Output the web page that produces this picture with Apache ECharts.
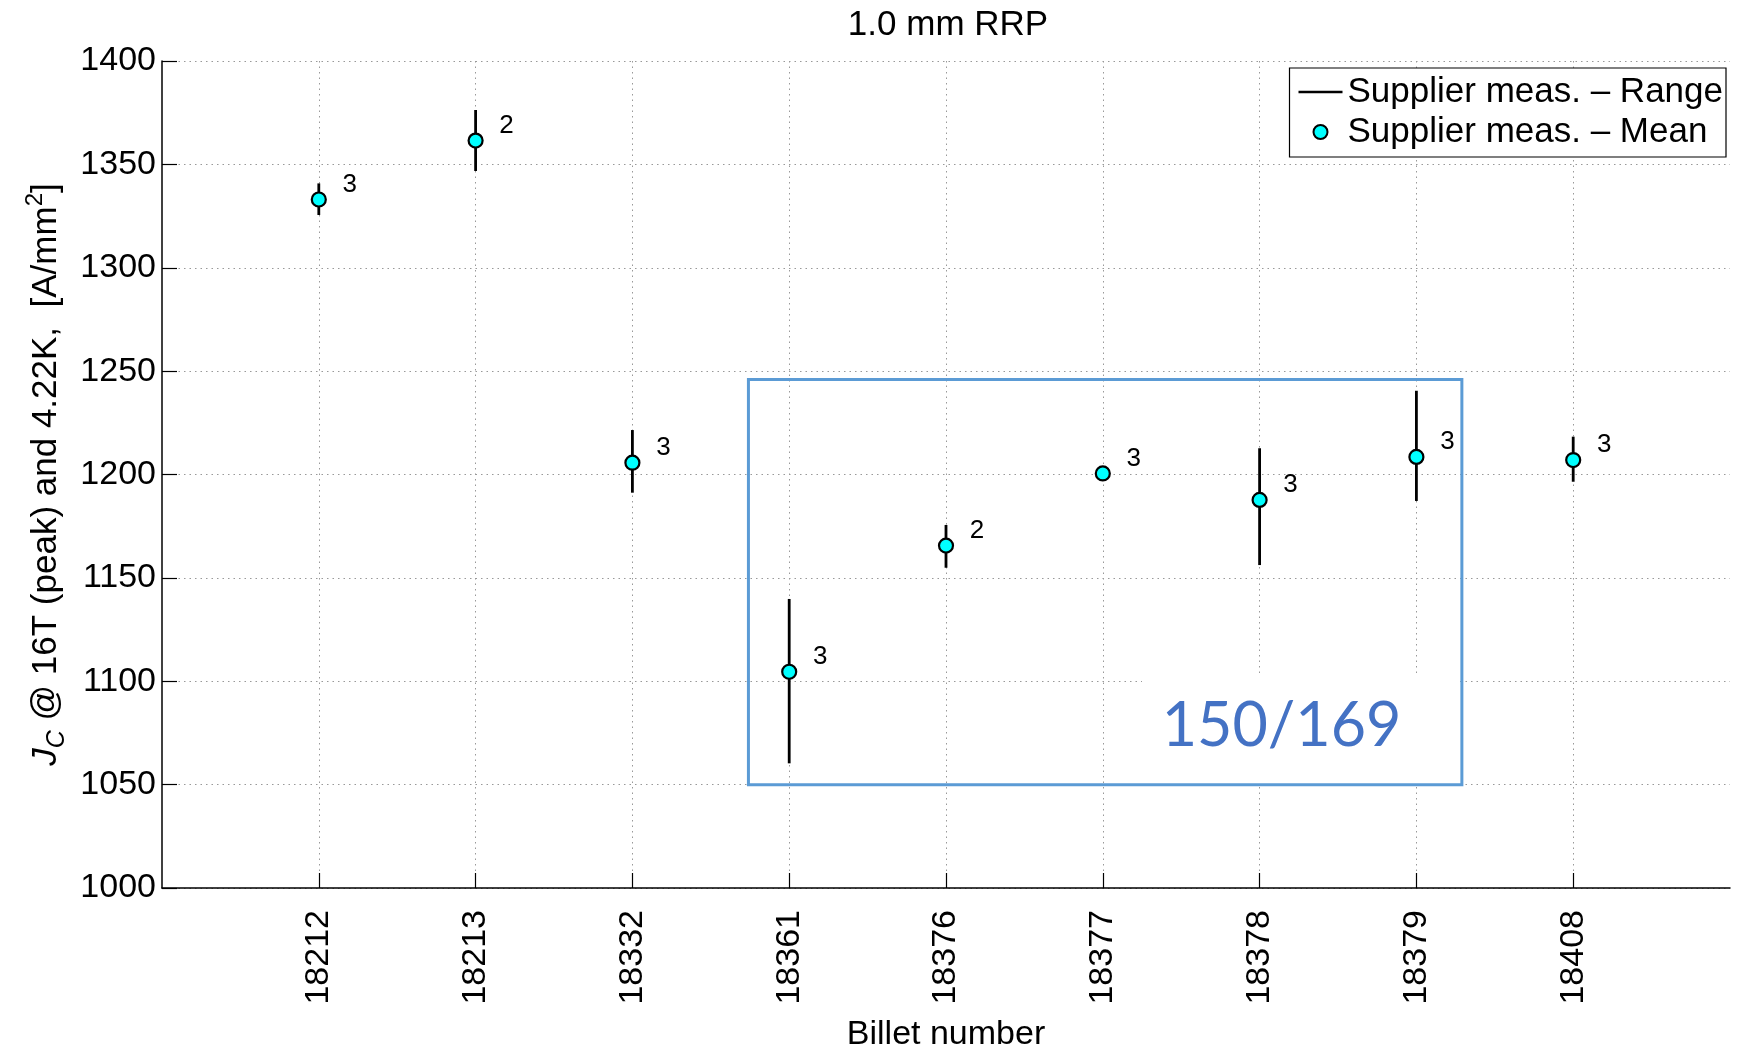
<!DOCTYPE html>
<html>
<head>
<meta charset="utf-8">
<script src="https://cdn.jsdelivr.net/npm/echarts@6/dist/echarts.min.js"></script>
<style>
html,body{margin:0;padding:0;background:#fff;}
#chart{width:1742px;height:1049px;}
</style>
</head>
<body>
<div id="chart"></div>
<script>
var billets=['18212','18213','18332','18361','18376','18377','18378','18379','18408'];
var means=[1333,1361.5,1205.7,1104.6,1165.6,1200.5,1187.7,1208.5,1207];
var lows=[1325.5,1346.8,1191.2,1060.3,1154.9,1199.5,1156.2,1187.2,1196.5];
var highs=[1340.8,1376.3,1221.5,1139.8,1175.6,1201.5,1212.7,1240.5,1218.3];
var counts=[3,2,3,3,2,3,3,3,3];
var yTicks=[1000,1400,50];
// highlighted group: [x0,y0,x1,y1] in axis units (billet slot, Jc)
var boxArea=[3.74,1050,8.29,1246];
var patchArea=[6.25,1050,8.27,1103.5];
var boxText='150/169';
var boxTextAt=[7.14,1078];

var font='"Liberation Sans", Arial, sans-serif';
var cats=[''].concat(billets).concat(['']);
var inner=function(i){return i>0&&i<cats.length-1;};

var rangeData=[],meanData=[];
for(var i=0;i<billets.length;i++){
	rangeData.push([i+1,lows[i],highs[i]]);
	meanData.push([i+1,means[i],counts[i]]);
}

function px(api,fx,y){
	var k=Math.floor(fx);
	var a=api.coord([k,y]),b=api.coord([k+1,y]);
	return [a[0]+(fx-k)*(b[0]-a[0]),a[1]];
}

var chart=echarts.init(document.getElementById('chart'));
var option={
	animation:false,
	backgroundColor:'#fff',
	title:{
		text:'1.0 mm RRP',left:943,top:3,textAlign:'center',
		textStyle:{fontFamily:font,fontSize:35,fontWeight:'normal',color:'#000'}
	},
	legend:{
		orient:'vertical',right:16,top:68,
		backgroundColor:'#fff',borderColor:'#000',borderWidth:1.2,
		padding:[6,3,7,9],itemGap:4,itemWidth:44,itemHeight:14,
		textStyle:{fontFamily:font,fontSize:35,color:'#000',lineHeight:36},
		data:[
			{name:'Supplier meas. – Range',icon:'path://M0,0H44V2.4H0Z'},
			{name:'Supplier meas. – Mean',icon:'circle'}
		]
	},
	grid:{left:162,right:12,top:61,bottom:161,outerBoundsMode:'none'},
	xAxis:{
		type:'category',data:cats,boundaryGap:false,
		name:'Billet number',nameLocation:'middle',nameGap:130,
		nameTextStyle:{fontFamily:font,fontSize:34,color:'#000'},
		axisLine:{lineStyle:{color:'#000',width:1.5}},
		axisTick:{inside:true,length:15,interval:inner,lineStyle:{color:'#000',width:1.2}},
		axisLabel:{rotate:90,margin:22,interval:inner,fontFamily:font,fontSize:34,color:'#000'},
		splitLine:{show:true,interval:inner,lineStyle:{color:'#999',type:[1.5,4],width:1}}
	},
	yAxis:{
		type:'value',min:yTicks[0],max:yTicks[1],interval:yTicks[2],
		name:'{i|J}{sub|C}{n| @ 16T (peak) and 4.22K,  [A/mm}{sup|2}{n|]}',
		nameLocation:'middle',nameRotate:90,nameGap:90,
		nameTextStyle:{
			fontFamily:font,color:'#000',
			rich:{
				i:{fontFamily:font,fontSize:35,fontStyle:'italic',lineHeight:46,color:'#000'},
				n:{fontFamily:font,fontSize:35,lineHeight:46,color:'#000'},
				sub:{fontFamily:font,fontSize:25,fontStyle:'italic',lineHeight:25,verticalAlign:'bottom',color:'#000'},
				sup:{fontFamily:font,fontSize:24,lineHeight:24,verticalAlign:'top',color:'#000'}
			}
		},
		axisLine:{show:true,lineStyle:{color:'#000',width:1.5}},
		axisTick:{show:true,inside:true,length:15,lineStyle:{color:'#000',width:1.2}},
		axisLabel:{margin:6,fontFamily:font,fontSize:34,color:'#000',
			formatter:function(v){return String(v);}},
		splitLine:{show:true,lineStyle:{color:'#999',type:[1.5,4],width:1}}
	},
	series:[
		{
			name:'box',type:'custom',silent:true,z:1,
			data:[[0]],
			renderItem:function(params,api){
				var p0=px(api,boxArea[0],boxArea[3]),p1=px(api,boxArea[2],boxArea[1]);
				var q0=px(api,patchArea[0],patchArea[3]),q1=px(api,patchArea[2],patchArea[1]);
				var t=px(api,boxTextAt[0],boxTextAt[1]);
				return {type:'group',children:[
					{type:'rect',shape:{x:q0[0],y:q0[1],width:q1[0]-q0[0],height:q1[1]-q0[1]},style:{fill:'#fff'}},
					{type:'rect',shape:{x:p0[0],y:p0[1],width:p1[0]-p0[0],height:p1[1]-p0[1]},
						style:{fill:'none',stroke:'#5b9bd5',lineWidth:3}},
					{type:'text',x:t[0],y:t[1],style:{text:boxText,fill:'#4472c4',
						font:'61px Lato, "Open Sans", sans-serif',align:'center',verticalAlign:'middle'}}
				]};
			}
		},
		{
			name:'Supplier meas. – Range',type:'custom',z:3,
			itemStyle:{color:'#000'},
			data:rangeData,
			encode:{x:0,y:[1,2]},
			renderItem:function(params,api){
				var a=api.coord([api.value(0),api.value(1)]);
				var b=api.coord([api.value(0),api.value(2)]);
				return {type:'line',shape:{x1:a[0],y1:a[1],x2:b[0],y2:b[1]},
					style:{stroke:'#000',lineWidth:2.8}};
			}
		},
		{
			name:'Supplier meas. – Mean',type:'scatter',z:4,
			data:meanData,symbol:'circle',symbolSize:14,
			itemStyle:{color:'#00ffff',borderColor:'#000',borderWidth:2.2,opacity:1},
			label:{
				show:true,position:'inside',offset:[31,-15],
				fontFamily:font,fontSize:26,color:'#000',
				formatter:function(p){return String(p.value[2]);}
			}
		}
	]
};
chart.setOption(option);
</script>
</body>
</html>
